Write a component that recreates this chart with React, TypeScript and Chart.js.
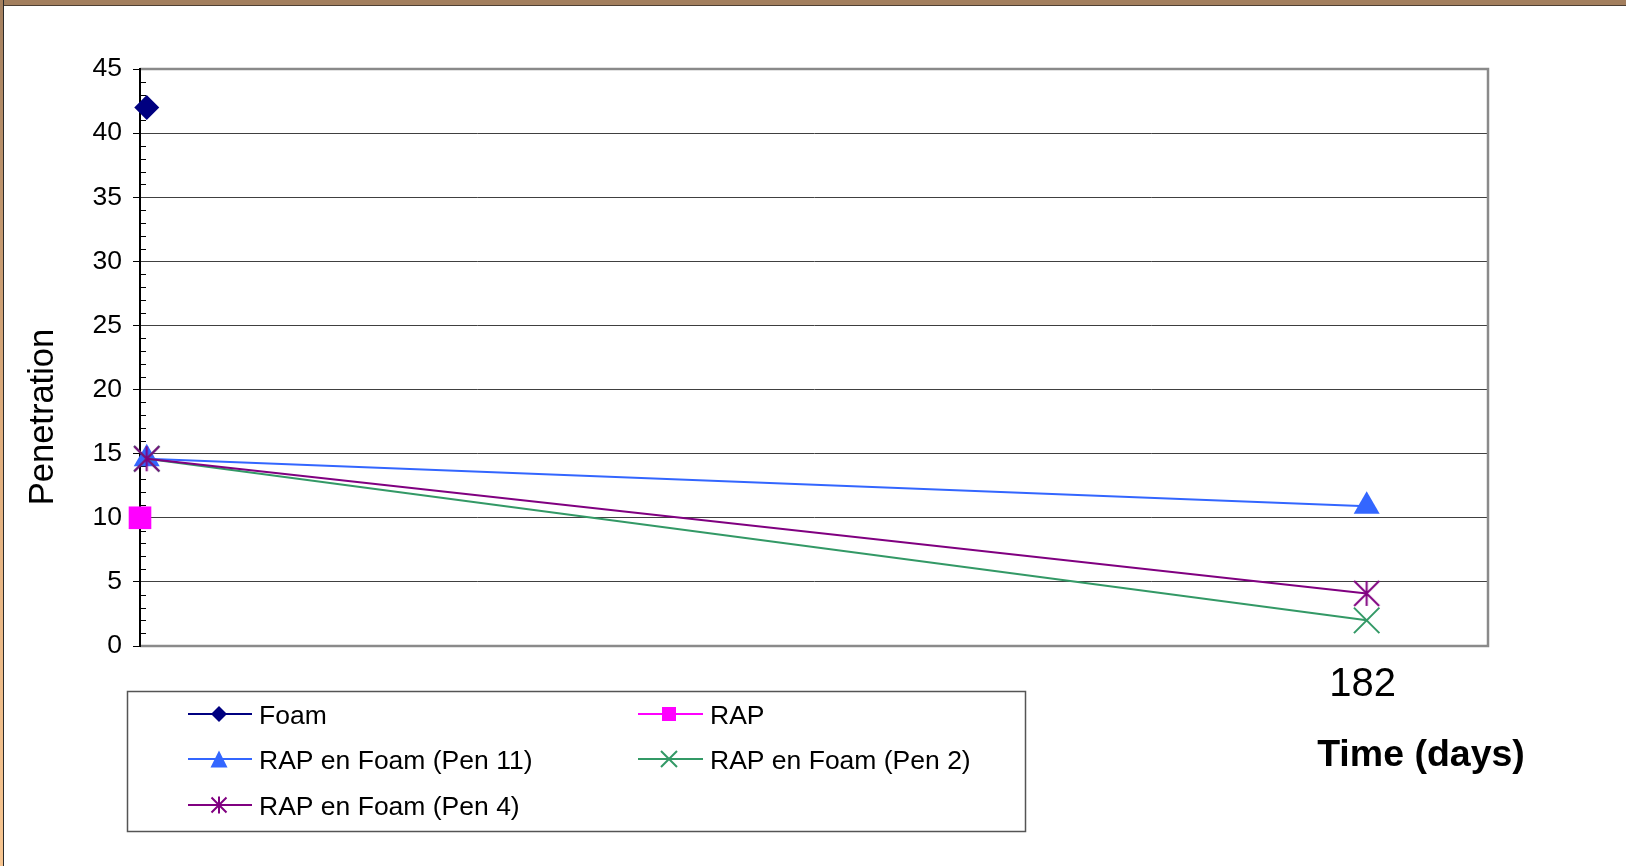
import React, { useEffect, useRef } from "react";
import { Chart, registerables } from "chart.js";

Chart.register(...registerables);

// ---------- data ----------
const seriesNames = [
  "Foam",
  "RAP",
  "RAP en Foam (Pen 11)",
  "RAP en Foam (Pen 2)",
  "RAP en Foam (Pen 4)",
];
const foamX = [1];
const foamY = [42];
const rapX = [0];
const rapY = [10];
const pen11X = [1, 182];
const pen11Y = [14.6, 10.9];
const pen2X = [1, 182];
const pen2Y = [14.6, 2.0];
const pen4X = [1, 182];
const pen4Y = [14.6, 4.1];

const xTickValues = [182];
const xMin = 0;
const xMax = 200;
const yMin = 0;
const yMax = 45;
const yStep = 5;
const yMinorStep = 1;

const yTitle = "Penetration";
const xTitle = "Time (days)";

const colors = ["#000080", "#ff00ff", "#3366ff", "#339966", "#800080"];

const FONT = "'Liberation Sans', Arial, Helvetica, sans-serif";

function toPoints(xs: number[], ys: number[]) {
  return xs.map((x, i) => ({ x, y: ys[i] }));
}

function makeAsterisk(color: string, half: number, lw: number) {
  const s = Math.ceil(half * 2 + lw * 2);
  const c = document.createElement("canvas");
  c.width = s;
  c.height = s;
  const g = c.getContext("2d")!;
  g.strokeStyle = color;
  g.lineWidth = lw;
  const m = s / 2;
  g.beginPath();
  g.moveTo(m - half, m - half);
  g.lineTo(m + half, m + half);
  g.moveTo(m + half, m - half);
  g.lineTo(m - half, m + half);
  g.moveTo(m, m - half);
  g.lineTo(m, m + half);
  g.stroke();
  return c;
}

function drawLegendMarker(ctx: CanvasRenderingContext2D, idx: number, x: number, y: number) {
  const col = colors[idx];
  ctx.save();
  ctx.fillStyle = col;
  ctx.strokeStyle = col;
  ctx.lineWidth = 2;
  ctx.beginPath();
  if (idx === 0) {
    const r = 8;
    ctx.moveTo(x - r, y);
    ctx.lineTo(x, y - r);
    ctx.lineTo(x + r, y);
    ctx.lineTo(x, y + r);
    ctx.closePath();
    ctx.fill();
  } else if (idx === 1) {
    ctx.rect(x - 7, y - 7, 14, 14);
    ctx.fill();
  } else if (idx === 2) {
    ctx.moveTo(x, y - 8.5);
    ctx.lineTo(x + 8.5, y + 8.5);
    ctx.lineTo(x - 8.5, y + 8.5);
    ctx.closePath();
    ctx.fill();
  } else if (idx === 3) {
    const h = 8;
    ctx.moveTo(x - h, y - h);
    ctx.lineTo(x + h, y + h);
    ctx.moveTo(x + h, y - h);
    ctx.lineTo(x - h, y + h);
    ctx.stroke();
  } else {
    const h = 7.5;
    ctx.moveTo(x - h, y - h);
    ctx.lineTo(x + h, y + h);
    ctx.moveTo(x + h, y - h);
    ctx.lineTo(x - h, y + h);
    ctx.moveTo(x, y - h - 1);
    ctx.lineTo(x, y + h + 1);
    ctx.stroke();
  }
  ctx.restore();
}

const decorPlugin = {
  id: "decor",
  beforeDatasetsDraw(chart: any) {
    const { ctx, chartArea } = chart;
    const ys = chart.scales.y;
    const { left, right, top, bottom } = chartArea;
    ctx.save();
    // plot border (gray) top, right, bottom
    ctx.strokeStyle = "#8a8a8a";
    ctx.lineWidth = 2.5;
    ctx.beginPath();
    ctx.moveTo(left, top);
    ctx.lineTo(right, top);
    ctx.lineTo(right, bottom);
    ctx.lineTo(left, bottom);
    ctx.stroke();
    // minor ticks on y axis (inside)
    ctx.strokeStyle = "#000";
    ctx.lineWidth = 1;
    for (let v = yMin; v <= yMax; v += yMinorStep) {
      if (v % yStep === 0) continue;
      const py = Math.round(ys.getPixelForValue(v)) + 0.5;
      ctx.beginPath();
      ctx.moveTo(left, py);
      ctx.lineTo(left + 6, py);
      ctx.stroke();
    }
    // left axis line
    ctx.lineWidth = 2;
    ctx.beginPath();
    ctx.moveTo(left, top - 1);
    ctx.lineTo(left, bottom + 1);
    ctx.stroke();
    ctx.restore();
  },
  afterDraw(chart: any) {
    const { ctx } = chart;
    ctx.save();
    ctx.fillStyle = "#000";
    // y title
    ctx.save();
    ctx.translate(53, 417);
    ctx.rotate(-Math.PI / 2);
    ctx.font = `34.5px ${FONT}`;
    ctx.textAlign = "center";
    ctx.textBaseline = "alphabetic";
    ctx.fillText(yTitle, 0, 0);
    ctx.restore();
    // x title
    ctx.font = `bold 37.5px ${FONT}`;
    ctx.textAlign = "center";
    ctx.textBaseline = "alphabetic";
    ctx.fillText(xTitle, 1421, 766);

    // legend box
    ctx.strokeStyle = "#555";
    ctx.lineWidth = 1.5;
    ctx.strokeRect(127.5, 691.5, 898, 140);
    const rows = [714, 759, 805];
    const cols = [
      { l0: 188, l1: 252, m: 219, t: 259 },
      { l0: 638, l1: 703, m: 669, t: 710 },
    ];
    ctx.font = `26.5px ${FONT}`;
    ctx.textAlign = "left";
    seriesNames.forEach((name, i) => {
      const c = cols[i % 2];
      const y = rows[Math.floor(i / 2)];
      ctx.strokeStyle = colors[i];
      ctx.lineWidth = 2;
      ctx.beginPath();
      ctx.moveTo(c.l0, y);
      ctx.lineTo(c.l1, y);
      ctx.stroke();
      drawLegendMarker(ctx, i, c.m, y);
      ctx.fillStyle = "#000";
      ctx.fillText(name, c.t, y + 10);
    });
    ctx.restore();
  },
};

export default function App() {
  const ref = useRef<HTMLCanvasElement | null>(null);

  useEffect(() => {
    if (!ref.current) return;
    const asterisk = makeAsterisk(colors[4], 12.5, 2);
    const common = {
      showLine: true,
      fill: false,
      borderWidth: 2,
      pointBorderWidth: 2,
      clip: false as any,
    };
    const chart = new Chart(ref.current, {
      type: "line",
      data: {
        datasets: [
          {
            ...common,
            label: seriesNames[0],
            data: toPoints(foamX, foamY),
            borderColor: colors[0],
            backgroundColor: colors[0],
            pointStyle: "rectRot",
            pointRadius: 12.5,
            pointBorderWidth: 0,
            order: 4,
          },
          {
            ...common,
            label: seriesNames[1],
            data: toPoints(rapX, rapY),
            borderColor: colors[1],
            backgroundColor: colors[1],
            pointStyle: "rect",
            pointRadius: 16,
            pointBorderWidth: 0,
            order: 3,
          },
          {
            ...common,
            label: seriesNames[2],
            data: toPoints(pen11X, pen11Y),
            borderColor: colors[2],
            backgroundColor: colors[2],
            pointStyle: "triangle",
            pointRadius: 15,
            pointBorderWidth: 0,
            order: 2,
          },
          {
            ...common,
            label: seriesNames[3],
            data: toPoints(pen2X, pen2Y),
            borderColor: colors[3],
            backgroundColor: colors[3],
            pointStyle: "crossRot",
            pointRadius: 18,
            order: 1,
          },
          {
            ...common,
            label: seriesNames[4],
            data: toPoints(pen4X, pen4Y),
            borderColor: colors[4],
            backgroundColor: colors[4],
            pointStyle: asterisk as any,
            pointRadius: 13,
            order: 0,
          },
        ],
      },
      options: {
        animation: false,
        responsive: false,
        devicePixelRatio: 1,
        events: [],
        layout: { padding: { left: 0, top: 69, right: 138, bottom: 0 } },
        plugins: {
          legend: { display: false },
          tooltip: { enabled: false },
          title: { display: false },
        },
        scales: {
          x: {
            type: "linear",
            min: xMin,
            max: xMax,
            afterBuildTicks: (s: any) => {
              s.ticks = xTickValues.map((v) => ({ value: v }));
            },
            afterFit: (s: any) => {
              s.height = 220;
            },
            grid: { display: false, drawTicks: false },
            border: { display: false },
            ticks: {
              autoSkip: false,
              maxRotation: 0,
              padding: 15,
              labelOffset: -4,
              color: "#000",
              font: { family: FONT, size: 40 },
              callback: (v: any) => String(v),
            },
          },
          y: {
            type: "linear",
            min: yMin,
            max: yMax,
            afterFit: (s: any) => {
              s.width = 140;
            },
            grid: {
              color: "#404040",
              lineWidth: 1,
              drawTicks: true,
              tickLength: 7,
              tickColor: "#000",
            },
            border: { display: true, color: "#000", width: 2 },
            ticks: {
              stepSize: yStep,
              padding: 11,
              color: "#000",
              font: { family: FONT, size: 26.5 },
            },
          },
        },
      },
      plugins: [decorPlugin],
    });
    return () => chart.destroy();
  }, []);

  return (
    <div
      style={{
        position: "fixed",
        left: 0,
        top: 0,
        width: 1626,
        height: 866,
        background: "#fff",
        overflow: "hidden",
      }}
    >
      <canvas
        ref={ref}
        width={1626}
        height={866}
        style={{ position: "absolute", left: 0, top: 0, width: 1626, height: 866 }}
      />
      <div
        style={{
          position: "absolute",
          left: 0,
          top: 0,
          width: 1626,
          height: 5,
          background: "#a37f5e",
          borderBottom: "1.5px solid #4d3f33",
        }}
      />
      <div
        style={{
          position: "absolute",
          left: 0,
          top: 0,
          width: 3,
          height: 866,
          background: "linear-gradient(#a37f5e, #e0ae7e 50%, #f7c590)",
          borderRight: "1.5px solid #2a2a2a",
        }}
      />
    </div>
  );
}
